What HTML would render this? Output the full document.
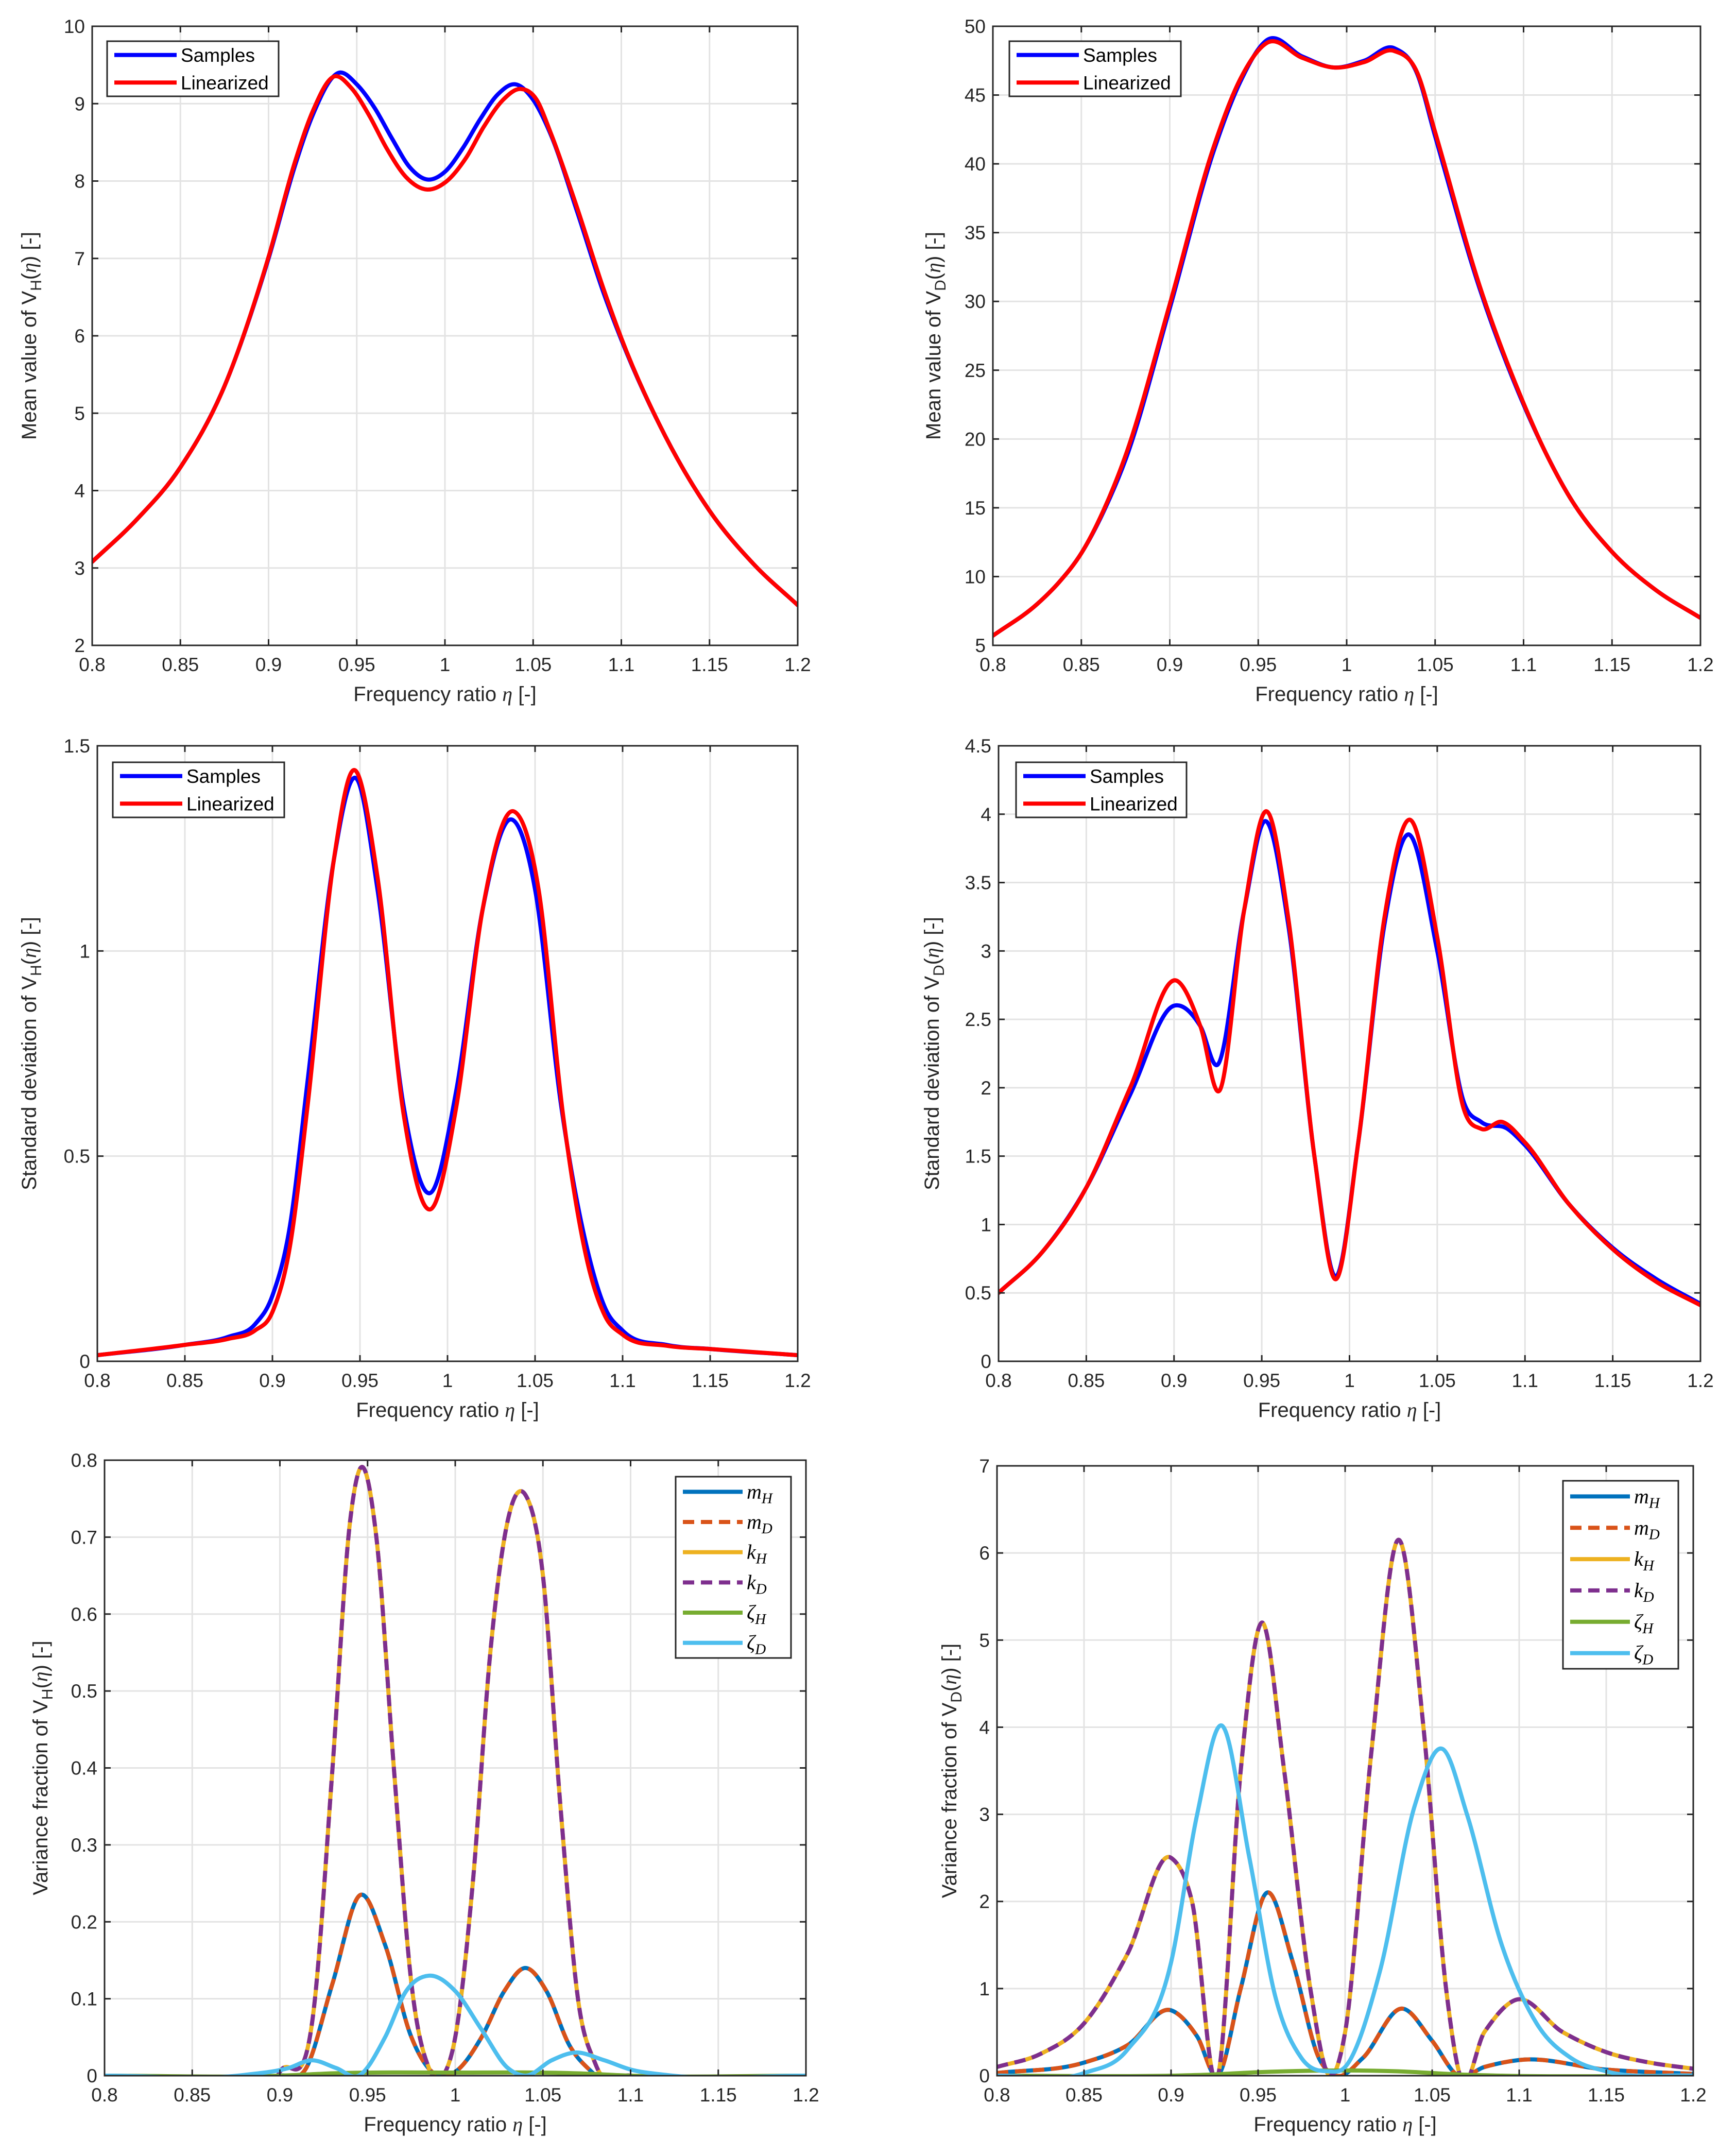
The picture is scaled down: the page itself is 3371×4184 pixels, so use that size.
<!DOCTYPE html>
<html><head><meta charset="utf-8">
<style>
html,body{margin:0;padding:0;background:#fff;}
svg{display:block;font-family:"Liberation Sans",sans-serif;}
</style></head>
<body>
<svg id="fig" width="3371" height="4184" viewBox="0 0 3371 4184" xmlns="http://www.w3.org/2000/svg">
<rect width="3371" height="4184" fill="#fff"/>
</svg>
<script>
// ---------- data ----------
const p1SamplesX=[0.8,0.825,0.85,0.875,0.9,0.915,0.925,0.94,0.95,0.96,0.97,0.98,0.99,1.0,1.01,1.02,1.03,1.04,1.05,1.06,1.075,1.09,1.1,1.125,1.15,1.175,1.2];
const p1SamplesY=[3.08,3.62,4.3,5.35,7.0,8.2,8.85,9.4,9.25,8.95,8.55,8.18,8.02,8.12,8.42,8.8,9.12,9.25,9.05,8.6,7.6,6.55,5.95,4.7,3.74,3.05,2.52];
const p1LinX=[0.8,0.825,0.85,0.875,0.9,0.915,0.925,0.937,0.947,0.957,0.967,0.978,0.99,1.0,1.012,1.022,1.033,1.043,1.052,1.06,1.075,1.09,1.1,1.125,1.15,1.175,1.2];
const p1LinY=[3.08,3.62,4.3,5.35,7.02,8.25,8.9,9.35,9.2,8.85,8.42,8.05,7.89,7.98,8.3,8.7,9.05,9.19,9.05,8.62,7.65,6.6,5.97,4.7,3.74,3.05,2.52];

const p2SamplesX=[0.8,0.825,0.8375,0.85,0.8625,0.875,0.9,0.925,0.94,0.955,0.975,0.993,1.01,1.027,1.04,1.05,1.075,1.1,1.1125,1.125,1.15,1.175,1.2];
const p2SamplesY=[5.7,8.0,9.6,11.7,14.7,18.5,29.5,41,46,49,47.8,47.0,47.5,48.4,46.5,42,31,22.5,19.0,16,11.8,9.0,7.0];
const p2LinX=p2SamplesX;
const p2LinY=[5.7,8.0,9.6,11.7,14.8,18.8,29.8,41.3,46.2,48.8,47.7,47.0,47.4,48.2,46.6,42.3,31.2,22.6,19.0,16,11.8,9.0,7.0];

const p3SamplesX=[0.8,0.85,0.875,0.89,0.9,0.91,0.92,0.935,0.948,0.96,0.975,0.99,1.005,1.02,1.037,1.05,1.065,1.08,1.09,1.1,1.125,1.15,1.2];
const p3SamplesY=[0.015,0.04,0.06,0.09,0.16,0.33,0.68,1.22,1.42,1.15,0.62,0.41,0.66,1.1,1.32,1.15,0.62,0.27,0.13,0.075,0.04,0.03,0.015];
const p3LinX=[0.8,0.85,0.875,0.89,0.9,0.91,0.92,0.935,0.946,0.96,0.975,0.99,1.005,1.02,1.038,1.052,1.066,1.08,1.09,1.1,1.125,1.15,1.2];
const p3LinY=[0.015,0.04,0.055,0.075,0.12,0.28,0.62,1.22,1.44,1.18,0.6,0.37,0.62,1.1,1.34,1.15,0.6,0.24,0.11,0.065,0.038,0.03,0.015];

const p4SamplesX=[0.8,0.825,0.85,0.875,0.9,0.915,0.925,0.94,0.952,0.965,0.98,0.992,1.005,1.02,1.033,1.05,1.065,1.075,1.09,1.1,1.125,1.15,1.175,1.2];
const p4SamplesY=[0.5,0.8,1.27,1.95,2.6,2.45,2.17,3.3,3.95,3.2,1.5,0.62,1.6,3.2,3.85,3.0,1.9,1.75,1.7,1.58,1.15,0.83,0.6,0.42];
const p4LinX=[0.8,0.825,0.85,0.875,0.902,0.915,0.926,0.94,0.953,0.965,0.98,0.992,1.005,1.02,1.034,1.05,1.065,1.075,1.087,1.1,1.125,1.15,1.175,1.2];
const p4LinY=[0.5,0.8,1.27,2.0,2.78,2.45,1.98,3.3,4.02,3.25,1.5,0.6,1.6,3.25,3.96,3.1,1.85,1.7,1.75,1.6,1.15,0.82,0.58,0.41];

const p5MX=[0.8,0.9,0.915,0.93,0.946,0.96,0.975,0.99,1.0,1.015,1.028,1.04,1.052,1.065,1.08,1.2];
const p5MY=[0,0,0.01,0.12,0.235,0.17,0.05,0.0,0.005,0.05,0.11,0.14,0.11,0.04,0.0,0];
const p5KX=[0.8,0.9,0.92,0.93,0.94,0.946,0.955,0.965,0.975,0.985,0.993,1.0,1.01,1.02,1.032,1.04,1.05,1.06,1.07,1.08,1.1,1.2];
const p5KY=[0,0.005,0.1,0.4,0.72,0.79,0.7,0.4,0.12,0.01,0.0,0.05,0.25,0.55,0.74,0.755,0.65,0.35,0.1,0.015,0,0];
const p5ZHX=[0.8,0.9,0.93,1.0,1.07,1.1,1.2];
const p5ZHY=[0,0,0.003,0.004,0.003,0,0];
const p5ZDX=[0.8,0.88,0.905,0.918,0.932,0.945,0.96,0.972,0.985,1.0,1.015,1.03,1.04,1.055,1.068,1.085,1.1,1.12,1.2];
const p5ZDY=[0,0.001,0.01,0.02,0.01,0.0,0.05,0.11,0.13,0.11,0.06,0.01,0.0,0.02,0.03,0.02,0.008,0.001,0];

const p6MX=[0.8,0.85,0.875,0.9,0.915,0.927,0.94,0.955,0.97,0.985,0.995,1.01,1.033,1.05,1.065,1.08,1.1,1.15,1.2];
const p6MY=[0.03,0.15,0.35,0.75,0.45,0.0,1.0,2.1,1.3,0.2,0.0,0.2,0.77,0.4,0.0,0.1,0.18,0.07,0.02];
const p6KX=[0.8,0.825,0.85,0.875,0.9,0.912,0.927,0.94,0.952,0.965,0.98,0.991,1.0,1.015,1.031,1.045,1.058,1.066,1.08,1.098,1.125,1.15,1.175,1.2];
const p6KY=[0.1,0.25,0.6,1.4,2.5,2.0,0.0,3.5,5.2,3.5,1.0,0.0,0.5,3.7,6.15,4.0,1.0,0.0,0.5,0.87,0.5,0.27,0.15,0.08];
const p6ZHX=[0.8,0.9,0.92,0.95,1.03,1.07,1.09,1.2];
const p6ZHY=[0,0,0.01,0.04,0.05,0.01,0,0];
const p6ZDX=[0.8,0.85,0.875,0.9,0.915,0.929,0.945,0.96,0.975,0.99,1.0,1.02,1.04,1.056,1.07,1.09,1.11,1.13,1.15,1.2];
const p6ZDY=[0,0.03,0.3,1.3,3.0,4.02,2.5,0.9,0.2,0.05,0.1,1.2,3.1,3.75,3.0,1.5,0.6,0.2,0.05,0];

const xTicks=[0.8,0.85,0.9,0.95,1,1.05,1.1,1.15,1.2];
const p1YTicks=[2,3,4,5,6,7,8,9,10];
const p2YTicks=[5,10,15,20,25,30,35,40,45,50];
const p3YTicks=[0,0.5,1,1.5];
const p4YTicks=[0,0.5,1,1.5,2,2.5,3,3.5,4,4.5];
const p5YTicks=[0,0.1,0.2,0.3,0.4,0.5,0.6,0.7,0.8];
const p6YTicks=[0,1,2,3,4,5,6,7];

// ---------- drawing ----------
const NS="http://www.w3.org/2000/svg";
const fig=document.getElementById('fig');
function mk(tag,attrs,parent){const e=document.createElementNS(NS,tag);for(const k in attrs)e.setAttribute(k,attrs[k]);(parent||fig).appendChild(e);return e;}

function smoothPath(xs,ys,sx,sy){
  const n=xs.length,px=xs.map(sx),py=ys.map(sy);
  const d=[],h=[],m=[];
  for(let i=0;i<n-1;i++){h.push(px[i+1]-px[i]);d.push((py[i+1]-py[i])/h[i]);}
  m[0]=d[0];m[n-1]=d[n-2];
  for(let i=1;i<n-1;i++){m[i]=(d[i-1]*h[i]+d[i]*h[i-1])/(h[i-1]+h[i]);}
  let p='M'+px[0].toFixed(1)+','+py[0].toFixed(1);
  for(let i=0;i<n-1;i++){const k=h[i]/3;p+=' C'+(px[i]+k).toFixed(1)+','+(py[i]+m[i]*k).toFixed(1)+' '+(px[i+1]-k).toFixed(1)+','+(py[i+1]-m[i+1]*k).toFixed(1)+' '+px[i+1].toFixed(1)+','+py[i+1].toFixed(1);}
  return p;
}

let clipId=0;
function axes(o){
  const g=mk('g',{});
  
  
  const sx=v=>o.L+(v-0.8)/(0.4)*(o.R-o.L);
  const sy=v=>o.B-(v-o.ymin)/(o.ymax-o.ymin)*(o.B-o.T);
  xTicks.forEach(t=>{const l=mk('line',{x1:sx(t),x2:sx(t),y1:o.T,y2:o.B,stroke:'#e3e3e3','stroke-width':3},g);});
  o.yt.forEach(t=>{const l=mk('line',{x1:o.L,x2:o.R,y1:sy(t),y2:sy(t),stroke:'#e3e3e3','stroke-width':3},g);});
  clipId++;
  const cp=mk('clipPath',{id:'c'+clipId},g);mk('rect',{x:o.L,y:o.T-4,width:o.R-o.L,height:o.B-o.T+4},cp);
  const sg=mk('g',{'clip-path':'url(#c'+clipId+')'},g);
  o.series.forEach(s=>{
    const p=mk('path',{d:smoothPath(s.x,s.y,sx,sy),fill:'none',stroke:s.c,'stroke-width':8,'stroke-linejoin':'round','stroke-linecap':s.dash?'butt':'round'},sg);
    if(s.dash)p.setAttribute('stroke-dasharray','22 13');
    
    
  });
  const bx=mk('rect',{x:o.L,y:o.T,width:o.R-o.L,height:o.B-o.T,fill:'none',stroke:'#262626','stroke-width':3},g);
  
  xTicks.forEach(t=>{
    mk('line',{x1:sx(t),x2:sx(t),y1:o.B,y2:o.B-12,stroke:'#262626','stroke-width':3},g);
    mk('line',{x1:sx(t),x2:sx(t),y1:o.T,y2:o.T+12,stroke:'#262626','stroke-width':3},g);
    const tx=mk('text',{x:sx(t),y:o.B+50,'font-size':37,fill:'#262626','text-anchor':'middle'},g);tx.textContent=String(t);
    
  });
  o.yt.forEach(t=>{
    mk('line',{x1:o.L,x2:o.L+12,y1:sy(t),y2:sy(t),stroke:'#262626','stroke-width':3},g);
    mk('line',{x1:o.R,x2:o.R-12,y1:sy(t),y2:sy(t),stroke:'#262626','stroke-width':3},g);
    const tx=mk('text',{x:o.L-14,y:sy(t)+13,'font-size':37,fill:'#262626','text-anchor':'end'},g);tx.textContent=String(t);
    
  });
  const xl=mk('text',{x:(o.L+o.R)/2,y:o.B+108,'font-size':40,fill:'#262626','text-anchor':'middle'},g);
  xl.innerHTML='Frequency ratio <tspan font-family="Liberation Serif, serif" font-style="italic">η</tspan> [-]';
  
  const yl=mk('text',{x:0,y:0,'font-size':40,fill:'#262626','text-anchor':'middle',transform:'translate('+o.ylx+','+((o.T+o.B)/2)+') rotate(-90)'},g);
  yl.innerHTML=o.ylabel+' V<tspan font-size="30" dy="10">'+o.sub+'</tspan><tspan dy="-10">(</tspan><tspan font-family="Liberation Serif, serif" font-style="italic">η</tspan>) [-]';
  
  const lg=mk('g',{},g);
  
  mk('rect',{x:o.lg[0],y:o.lg[1],width:o.lg[2],height:o.lg[3],fill:'#fff',stroke:'#262626','stroke-width':3},lg);
  const n=o.series.length,rh=o.lg[3]/n;
  o.series.forEach((s,i)=>{
    const cy=o.lg[1]+rh*(i+0.5);
    const ll=mk('line',{x1:o.lg[0]+14,x2:o.lg[0]+o.legLine,y1:cy,y2:cy,stroke:s.c,'stroke-width':8},lg);
    if(s.dash)ll.setAttribute('stroke-dasharray','22 13');
    const t=mk('text',{x:o.lg[0]+o.legLine+8,y:cy+13,'font-size':37,fill:'#000'},lg);
    t.innerHTML=s.label;
    
  });
}
const mathLab=(a,b)=>'<tspan font-family="Liberation Serif, serif" font-style="italic" font-size="40">'+a+'</tspan><tspan font-family="Liberation Serif, serif" font-style="italic" font-size="29" dy="9">'+b+'</tspan>';
const C=['#0072BD','#D95319','#EDB120','#7E2F8E','#77AC30','#4DBEEE'];

axes({name:'mean-vh-chart',L:179,R:1549,T:51,B:1253,ymin:2,ymax:10,yt:p1YTicks,ylx:70,ylabel:'Mean value of',sub:'H',lg:[208,80,333,107],legLine:135,
 series:[{x:p1SamplesX,y:p1SamplesY,c:'#0000ff',name:'samples-line',label:'Samples'},{x:p1LinX,y:p1LinY,c:'#ff0000',name:'linearized-line',label:'Linearized'}]});
axes({name:'mean-vd-chart',L:1928,R:3302,T:51,B:1253,ymin:5,ymax:50,yt:p2YTicks,ylx:1826,ylabel:'Mean value of',sub:'D',lg:[1960,80,333,107],legLine:135,
 series:[{x:p2SamplesX,y:p2SamplesY,c:'#0000ff',name:'samples-line',label:'Samples'},{x:p2LinX,y:p2LinY,c:'#ff0000',name:'linearized-line',label:'Linearized'}]});
axes({name:'std-vh-chart',L:189,R:1549,T:1448,B:2643,ymin:0,ymax:1.5,yt:p3YTicks,ylx:70,ylabel:'Standard deviation of',sub:'H',lg:[219,1480,333,107],legLine:135,
 series:[{x:p3SamplesX,y:p3SamplesY,c:'#0000ff',name:'samples-line',label:'Samples'},{x:p3LinX,y:p3LinY,c:'#ff0000',name:'linearized-line',label:'Linearized'}]});
axes({name:'std-vd-chart',L:1939,R:3302,T:1448,B:2643,ymin:0,ymax:4.5,yt:p4YTicks,ylx:1823,ylabel:'Standard deviation of',sub:'D',lg:[1973,1480,331,107],legLine:135,
 series:[{x:p4SamplesX,y:p4SamplesY,c:'#0000ff',name:'samples-line',label:'Samples'},{x:p4LinX,y:p4LinY,c:'#ff0000',name:'linearized-line',label:'Linearized'}]});
axes({name:'variance-fraction-vh-chart',L:203,R:1565,T:2835,B:4030,ymin:0,ymax:0.8,yt:p5YTicks,ylx:92,ylabel:'Variance fraction of',sub:'H',lg:[1312,2867,224,352],legLine:130,
 series:[{x:p5MX,y:p5MY,c:C[0],name:'m-h-line',label:mathLab('m','H')},{x:p5MX,y:p5MY,c:C[1],dash:1,name:'m-d-line',label:mathLab('m','D')},
 {x:p5KX,y:p5KY,c:C[2],name:'k-h-line',label:mathLab('k','H')},{x:p5KX,y:p5KY,c:C[3],dash:1,name:'k-d-line',label:mathLab('k','D')},
 {x:p5ZHX,y:p5ZHY,c:C[4],name:'zeta-h-line',label:mathLab('ζ','H')},{x:p5ZDX,y:p5ZDY,c:C[5],name:'zeta-d-line',label:mathLab('ζ','D')}]});
axes({name:'variance-fraction-vd-chart',L:1936,R:3288,T:2846,B:4030,ymin:0,ymax:7,yt:p6YTicks,ylx:1857,ylabel:'Variance fraction of',sub:'D',lg:[3035,2875,224,365],legLine:130,
 series:[{x:p6MX,y:p6MY,c:C[0],name:'m-h-line',label:mathLab('m','H')},{x:p6MX,y:p6MY,c:C[1],dash:1,name:'m-d-line',label:mathLab('m','D')},
 {x:p6KX,y:p6KY,c:C[2],name:'k-h-line',label:mathLab('k','H')},{x:p6KX,y:p6KY,c:C[3],dash:1,name:'k-d-line',label:mathLab('k','D')},
 {x:p6ZHX,y:p6ZHY,c:C[4],name:'zeta-h-line',label:mathLab('ζ','H')},{x:p6ZDX,y:p6ZDY,c:C[5],name:'zeta-d-line',label:mathLab('ζ','D')}]});
</script>
</body></html>
